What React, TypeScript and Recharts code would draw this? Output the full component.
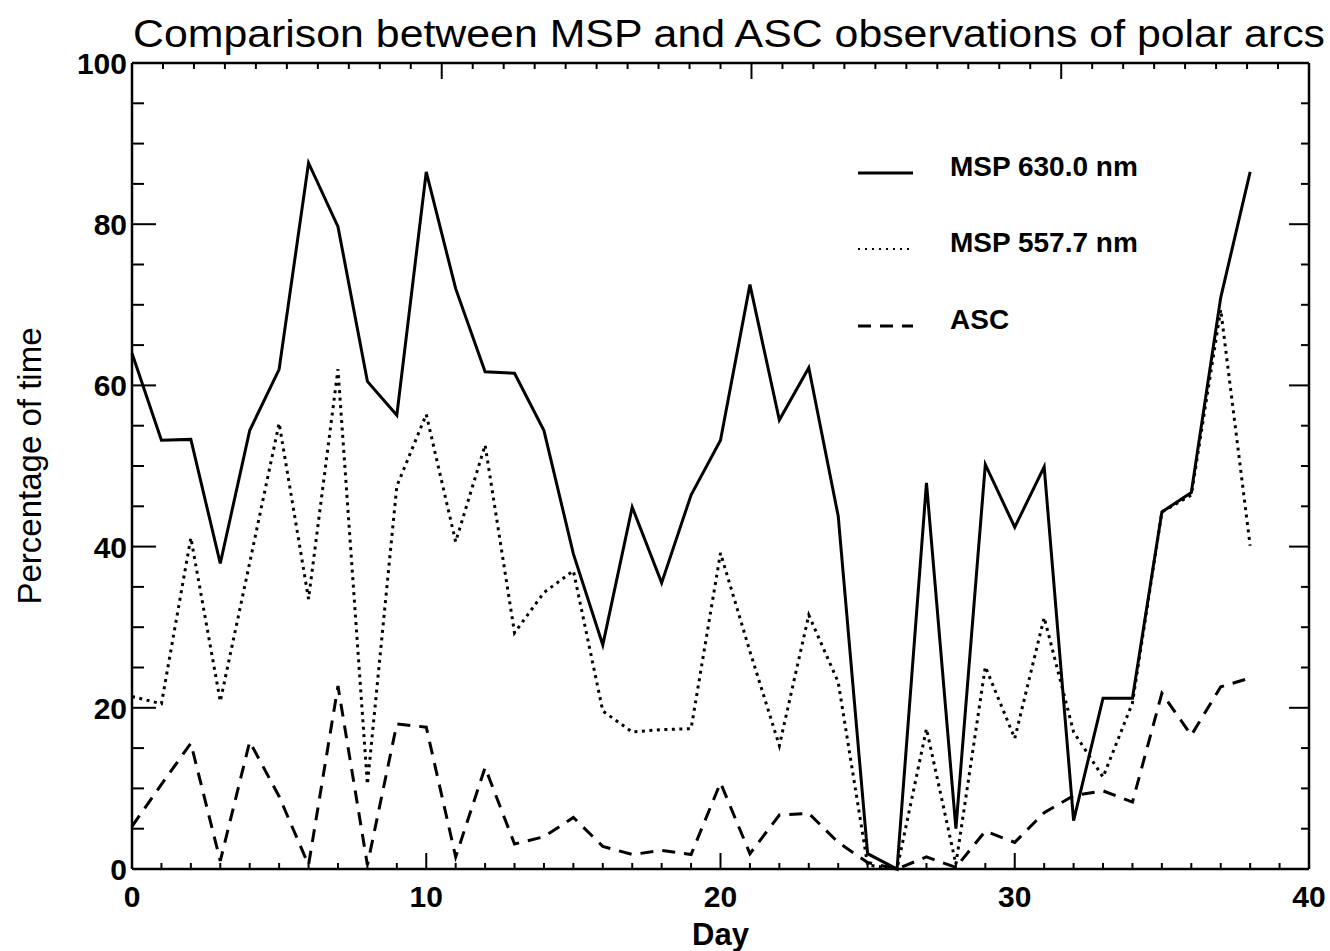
import React from "react";
import { LineChart, Line, XAxis, YAxis, Legend } from "recharts";

// day index along the x axis
const days = [
  0, 1, 2, 3, 4, 5, 6, 7, 8, 9, 10, 11, 12, 13, 14, 15, 16, 17, 18, 19,
  20, 21, 22, 23, 24, 25, 26, 27, 28, 29, 30, 31, 32, 33, 34, 35, 36, 37, 38,
];

// percentage of time
const msp630 = [
  64, 53.2, 53.3, 37.9, 54.4, 62, 87.6, 79.7, 60.5, 56.3, 86.5, 72, 61.7, 61.5,
  54.4, 39.1, 27.8, 44.9, 35.5, 46.4, 53.2, 72.5, 55.7, 62.2, 43.8, 1.9, 0,
  47.9, 5, 50.2, 42.4, 49.9, 6, 21.2, 21.2, 44.3, 46.7, 70.9, 86.5,
];
const msp557 = [
  21.4, 20.5, 41.1, 20.8, 38, 55.3, 33.5, 62, 10.5, 47.5, 56.4, 40.6, 52.6,
  29.3, 34.3, 37, 19.6, 17, 17.3, 17.4, 39.2, 27, 15.3, 31.5, 23.2, 0.5, 0,
  17.4, 0.6, 25.1, 16.2, 31.2, 17, 11.4, 20.6, 44.3, 46.4, 69.4, 40.1,
];
const asc = [
  5.3, 10.5, 15.6, 1, 15.8, 9, 0.5, 22.7, 0.5, 18, 17.6, 1.5, 12.6, 3.1, 4,
  6.4, 2.8, 1.8, 2.3, 1.8, 10.7, 1.9, 6.7, 6.9, 3.3, 0.8, 0, 1.5, 0.2, 4.7,
  3.3, 7, 9.1, 9.7, 8.3, 21.8, 16.6, 22.6, 23.7,
];

const seriesNames = ["MSP 630.0 nm", "MSP 557.7 nm", "ASC"];

const xTicks = Array.from({ length: 41 }, (_, i) => i);
const xLabels = [0, 10, 20, 30, 40];
const yTicks = Array.from({ length: 21 }, (_, i) => i * 5);
const yLabels = [0, 20, 40, 60, 80, 100];

const chartData = days.map((d, i) => ({
  day: d,
  msp630: msp630[i],
  msp557: msp557[i],
  asc: asc[i],
}));

const FONT = "'Liberation Sans', Arial, Helvetica, sans-serif";
const INK = "#000";
const axisStyle = { stroke: INK, strokeWidth: 2.5 };

const BottomTick = (props: any) => {
  const { x, y, payload } = props;
  const major = xLabels.includes(payload.value);
  return (
    <g>
      <line x1={x} x2={x} y1={y} y2={y - (major ? 16 : 6)} stroke={INK} strokeWidth={2} />
      {major && (
        <text x={x} y={y + 38} textAnchor="middle" fontSize={30} fontWeight="bold" fontFamily={FONT} fill={INK}>
          {payload.value}
        </text>
      )}
    </g>
  );
};

const TopTick = (props: any) => {
  const { x, y, payload } = props;
  const major = xLabels.includes(payload.value);
  return <line x1={x} x2={x} y1={y} y2={y + (major ? 16 : 6)} stroke={INK} strokeWidth={2} />;
};

const LeftTick = (props: any) => {
  const { x, y, payload } = props;
  const major = yLabels.includes(payload.value);
  return (
    <g>
      <line x1={x} x2={x + (major ? 24 : 12)} y1={y} y2={y} stroke={INK} strokeWidth={2} />
      {major && (
        <text x={x - 5} y={y + 11} textAnchor="end" fontSize={30} fontWeight="bold" fontFamily={FONT} fill={INK}>
          {payload.value}
        </text>
      )}
    </g>
  );
};

const RightTick = (props: any) => {
  const { x, y, payload } = props;
  const major = yLabels.includes(payload.value);
  return <line x1={x} x2={x - (major ? 20 : 8)} y1={y} y2={y} stroke={INK} strokeWidth={2} />;
};

const DayLabel = (props: any) => {
  const vb = props.viewBox;
  return (
    <text x={vb.x + vb.width / 2} y={vb.y + 76} textAnchor="middle" fontSize={31} fontWeight="bold" fontFamily={FONT} fill={INK}>
      Day
    </text>
  );
};

const PctLabel = (props: any) => {
  const vb = props.viewBox;
  const cx = 41;
  const cy = vb.y + vb.height / 2;
  return (
    <text x={cx} y={cy} transform={`rotate(-90, ${cx}, ${cy})`} textAnchor="middle" fontSize={33} fontFamily={FONT} fill={INK}>
      Percentage of time
    </text>
  );
};

const dashes: Record<string, string | undefined> = {
  "MSP 630.0 nm": undefined,
  "MSP 557.7 nm": "3 4.5",
  ASC: "13 9",
};
const legendDashes = [undefined, "2 5", "13 9"];

const LegendBox = () => {
  const rows = [33, 109, 186];
  return (
    <svg width={330} height={200}>
      {seriesNames.map((name, i) => (
        <g key={name}>
          <line x1={8} x2={63} y1={rows[i]} y2={rows[i]} stroke={INK} strokeWidth={i === 1 ? 2 : 3} strokeDasharray={legendDashes[i]} />
          <text x={100} y={rows[i] + 3} fontSize={28} fontWeight="bold" fontFamily={FONT} fill={INK}>
            {name}
          </text>
        </g>
      ))}
    </svg>
  );
};

export default function App() {
  return (
    <div style={{ position: "absolute", left: 0, top: 0, width: 1330, height: 951, background: "#fff", overflow: "hidden" }}>
      <LineChart width={1330} height={951} data={chartData} margin={{ top: 62, right: 20, bottom: 42, left: 0 }}>
        <XAxis
          dataKey="day"
          type="number"
          domain={[0, 40]}
          ticks={xTicks}
          interval={0}
          height={40}
          tickSize={0}
          tickMargin={0}
          tickLine={false}
          axisLine={axisStyle}
          tick={<BottomTick />}
          label={DayLabel}
        />
        <XAxis
          xAxisId="top"
          orientation="top"
          type="number"
          domain={[0, 40]}
          ticks={xTicks}
          interval={0}
          height={1}
          tickSize={0}
          tickMargin={0}
          tickLine={false}
          axisLine={axisStyle}
          tick={<TopTick />}
          allowDataOverflow
        />
        <YAxis
          type="number"
          domain={[0, 100]}
          ticks={yTicks}
          interval={0}
          width={132}
          tickSize={0}
          tickMargin={0}
          tickLine={false}
          axisLine={axisStyle}
          tick={<LeftTick />}
          label={PctLabel}
        />
        <YAxis
          yAxisId="right"
          orientation="right"
          type="number"
          domain={[0, 100]}
          ticks={yTicks}
          interval={0}
          width={1}
          tickSize={0}
          tickMargin={0}
          tickLine={false}
          axisLine={axisStyle}
          tick={<RightTick />}
          allowDataOverflow
        />
        <Legend
          layout="vertical"
          align="center"
          verticalAlign="middle"
          content={LegendBox}
          wrapperStyle={{ left: 850, top: 140, width: 330, height: 200 }}
        />
        <Line name={seriesNames[0]} dataKey="msp630" stroke={INK} strokeWidth={3} dot={false} activeDot={false} isAnimationActive={false} />
        <Line name={seriesNames[1]} dataKey="msp557" stroke={INK} strokeWidth={3} strokeDasharray={dashes[seriesNames[1]]} dot={false} activeDot={false} isAnimationActive={false} />
        <Line name={seriesNames[2]} dataKey="asc" stroke={INK} strokeWidth={3} strokeDasharray={dashes[seriesNames[2]]} dot={false} activeDot={false} isAnimationActive={false} />
      </LineChart>
      <svg width={1330} height={951} style={{ position: "absolute", left: 0, top: 0, pointerEvents: "none" }}>
        <text x={729} y={47} textAnchor="middle" fontSize={38} fontFamily={FONT} fill={INK} textLength={1192} lengthAdjust="spacingAndGlyphs">
          Comparison between MSP and ASC observations of polar arcs
        </text>
      </svg>
    </div>
  );
}
